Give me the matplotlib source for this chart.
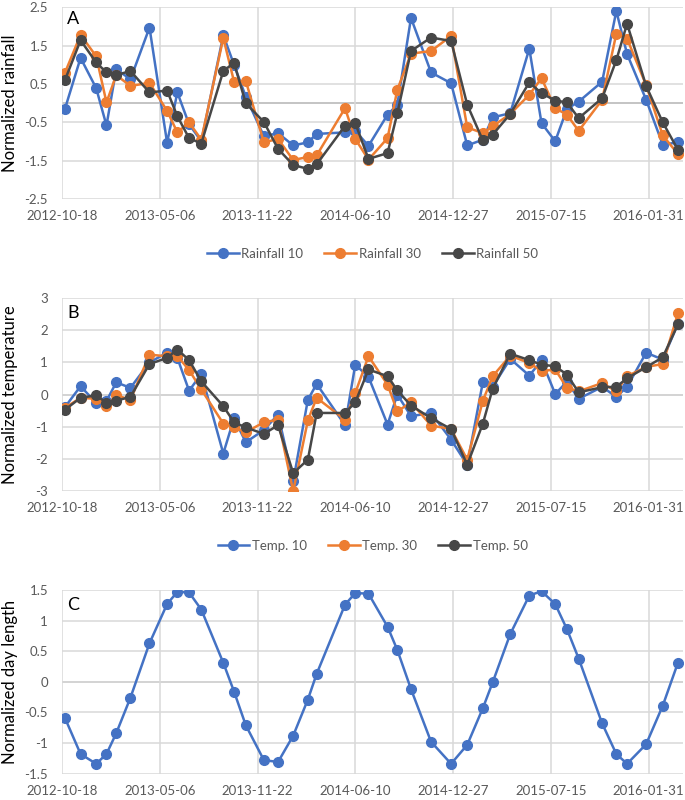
import numpy as np
import pandas as pd
import matplotlib
matplotlib.use('Agg')
import matplotlib.pyplot as plt

plt.rcParams['font.family'] = ['Lato', 'DejaVu Sans']

# sampling dates
dates = pd.to_datetime([
    '2012-10-24', '2012-11-25', '2012-12-27', '2013-01-17', '2013-02-06', '2013-03-07',
    '2013-04-15', '2013-05-21', '2013-06-11', '2013-07-05', '2013-07-30', '2013-09-13',
    '2013-10-05', '2013-10-29', '2013-12-05', '2014-01-03', '2014-02-03', '2014-03-05',
    '2014-03-23', '2014-05-20', '2014-06-10', '2014-07-07', '2014-08-15', '2014-09-04',
    '2014-10-02', '2014-11-12', '2014-12-23', '2015-01-25', '2015-02-26', '2015-03-18',
    '2015-04-23', '2015-06-01', '2015-06-26', '2015-07-24', '2015-08-17', '2015-09-10',
    '2015-10-28', '2015-11-26', '2015-12-18', '2016-01-26', '2016-02-29', '2016-03-31'])

# panel A - normalized rainfall
rain10 = [-0.15, 1.18, 0.39, -0.58, 0.89, 0.62, 1.97, -1.03, 0.28, -0.55, -0.99, 1.77,
          1.00, 0.17, -0.86, -0.78, -1.10, -1.02, -0.80, -0.76, -0.72, -1.11, -0.30, -0.04,
          2.22, 0.80, 0.52, -1.10, -0.95, -0.37, -0.26, 1.42, -0.52, -0.99, -0.15, 0.04,
          0.56, 2.40, 1.28, 0.09, -1.08, -1.02]
rain30 = [0.79, 1.78, 1.22, 0.02, 0.73, 0.45, 0.53, -0.20, -0.76, -0.50, -0.95, 1.70,
          0.56, 0.58, -1.02, -0.93, -1.48, -1.40, -1.36, -0.13, -0.93, -1.47, -0.91, 0.35,
          1.29, 1.36, 1.75, -0.63, -0.78, -0.60, -0.28, 0.22, 0.65, -0.13, -0.30, -0.72,
          0.09, 1.81, 1.68, 0.47, -0.84, -1.32]
rain50 = [0.60, 1.64, 1.06, 0.80, 0.73, 0.84, 0.28, 0.33, -0.34, -0.91, -1.05, 0.84,
          1.05, 0.00, -0.49, -1.19, -1.61, -1.71, -1.59, -0.59, -0.52, -1.45, -1.30, -0.26,
          1.36, 1.71, 1.62, -0.04, -0.97, -0.82, -0.28, 0.54, 0.26, 0.07, 0.02, -0.39,
          0.13, 1.12, 2.07, 0.45, -0.50, -1.21]

# panel B - normalized temperature
temp10 = [-0.39, 0.26, -0.26, -0.20, 0.38, 0.21, 1.00, 1.30, 1.14, 0.12, 0.64, -1.83,
          -0.73, -1.48, -1.10, -0.62, -2.69, -0.16, 0.33, -0.95, 0.93, 0.55, -0.93, 0.00,
          -0.67, -0.57, -1.40, -2.18, 0.39, 0.24, 1.11, 0.59, 1.06, 0.02, 0.40, -0.13,
          0.24, -0.07, 0.24, 1.30, 1.09, 2.20]
temp30 = [-0.41, -0.10, -0.13, -0.36, -0.02, -0.16, 1.24, 1.19, 1.20, 0.76, 0.16, -0.90,
          -1.02, -1.17, -0.86, -0.78, -3.00, -0.80, -0.10, -0.78, 0.05, 1.19, 0.31, -0.52,
          -0.24, -0.96, -1.07, -2.02, -0.19, 0.57, 1.21, 0.98, 0.73, 0.78, 0.21, 0.10,
          0.36, 0.10, 0.57, 0.86, 0.95, 2.52]
temp50 = [-0.47, -0.10, -0.02, -0.26, -0.19, -0.07, 0.95, 1.14, 1.40, 1.07, 0.41, -0.36,
          -0.86, -1.02, -1.22, -0.95, -2.44, -2.02, -0.57, -0.57, -0.24, 0.78, 0.57, 0.13,
          -0.34, -0.73, -1.07, -2.18, -0.90, 0.18, 1.27, 1.07, 0.93, 0.88, 0.62, 0.07,
          0.23, 0.24, 0.51, 0.85, 1.16, 2.18]

# panel C - normalized day length
daylen = [-0.59, -1.18, -1.34, -1.18, -0.84, -0.26, 0.63, 1.27, 1.47, 1.46, 1.18, 0.31,
          -0.16, -0.71, -1.28, -1.31, -0.88, -0.29, 0.13, 1.26, 1.45, 1.44, 0.90, 0.52,
          -0.12, -0.98, -1.34, -1.03, -0.43, -0.01, 0.78, 1.41, 1.48, 1.27, 0.86, 0.38,
          -0.68, -1.18, -1.34, -1.02, -0.39, 0.31]

tick_dates = pd.date_range('2012-10-18', periods=7, freq='200D')
tick_labels = [d.strftime('%Y-%m-%d') for d in tick_dates]

blue = '#4472C4'
orange = '#ED7D31'
dark = '#474747'
grey_txt = '#595959'

fig = plt.figure(figsize=(6.85, 8.0), dpi=100)

axA = fig.add_axes([0.0905, 0.751, 0.907, 0.240])
axB = fig.add_axes([0.0905, 0.386, 0.907, 0.2415])
axC = fig.add_axes([0.0905, 0.033, 0.907, 0.2295])


def style_axis(ax, yticks, ylabels, ylabel, letter, letter_y):
    ax.set_xlim(pd.Timestamp('2012-10-18'), pd.Timestamp('2016-04-11'))
    ax.set_ylim(yticks[0], yticks[-1])
    ax.set_xticks(tick_dates)
    ax.set_xticklabels(tick_labels)
    ax.set_yticks(yticks)
    ax.set_yticklabels(ylabels)
    ax.grid(True, color='#D9D9D9', lw=1.1, zorder=0)
    ax.axhline(0, color='#BFBFBF', lw=1.3, zorder=1)
    for s in ax.spines.values():
        s.set_visible(False)
    ax.tick_params(length=0, labelsize=9.5, colors=grey_txt, pad=8)
    ax.tick_params(axis='y', pad=10)
    ax.set_ylabel(ylabel, fontsize=12, color='black', va='center')
    ax.yaxis.set_label_coords(-0.083, 0.5)
    ax.text(0.008, letter_y, letter, transform=ax.transAxes, fontsize=13,
            ha='left', va='center', color='black')


kw = dict(lw=1.8, marker='o', ms=7, zorder=3)

axA.plot(dates, rain10, color=blue, label='Rainfall 10', **kw)
axA.plot(dates, rain30, color=orange, label='Rainfall 30', **kw)
axA.plot(dates, rain50, color=dark, label='Rainfall 50', **kw)
style_axis(axA, [-2.5, -1.5, -0.5, 0.5, 1.5, 2.5],
           ['-2.5', '-1.5', '-0.5', '0.5', '1.5', '2.5'],
           'Normalized rainfall', 'A', 0.94)
axA.legend(loc='center', bbox_to_anchor=(0.5, -0.285), ncol=3, frameon=False,
           fontsize=9.5, labelcolor=grey_txt, handlelength=2.4, handletextpad=0.2,
           columnspacing=1.6)

axB.plot(dates, temp10, color=blue, label='Temp. 10', **kw)
axB.plot(dates, temp30, color=orange, label='Temp. 30', **kw)
axB.plot(dates, temp50, color=dark, label='Temp. 50', **kw)
style_axis(axB, [-3, -2, -1, 0, 1, 2, 3],
           ['-3', '-2', '-1', '0', '1', '2', '3'],
           'Normalized temperature', 'B', 0.922)
axB.legend(loc='center', bbox_to_anchor=(0.5, -0.284), ncol=3, frameon=False,
           fontsize=9.5, labelcolor=grey_txt, handlelength=2.4, handletextpad=0.2,
           columnspacing=1.6)

axC.plot(dates, daylen, color=blue, **kw)
style_axis(axC, [-1.5, -1, -0.5, 0, 0.5, 1, 1.5],
           ['-1.5', '-1', '-0.5', '0', '0.5', '1', '1.5'],
           'Normalized day length', 'C', 0.918)

fig.savefig('out.png', dpi=100, facecolor='white')
